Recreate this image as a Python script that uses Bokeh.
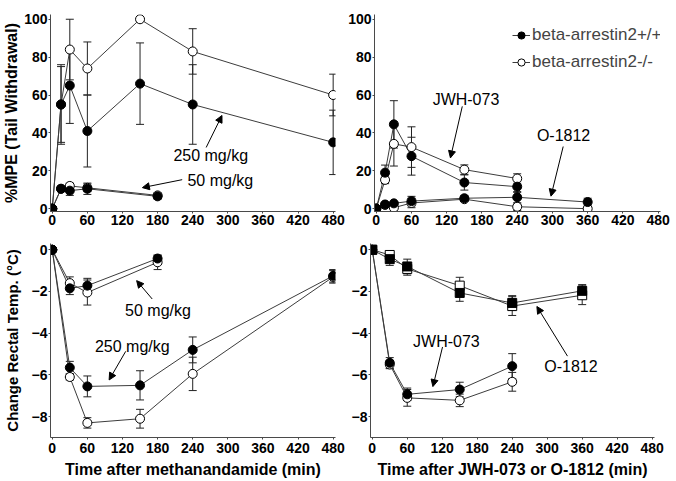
from bokeh.plotting import figure
from bokeh.layouts import column, row
from bokeh.models import (ColumnDataSource, Whisker, TeeHead, Arrow, NormalHead, Label,
                          Legend, LegendItem, Range1d, FixedTicker)
from bokeh.embed import file_html
from bokeh.resources import INLINE

# ---------------- data ----------------
# Top-left: methanandamide, %MPE
t_m250 = [0, 15, 30, 60, 150, 240, 480]
wt_mpe250 = [0, 55, 65, 41, 66, 55, 35]
wt_mpe250_err = [0, 20, 20, 19, 21.5, 21, 17]
ko_mpe250 = [0, 55, 84, 74, 100, 83, 60]
ko_mpe250_err = [0, 21, 16, 14, 0, 12, 11]

t_m50 = [0, 15, 30, 60, 180]
wt_mpe50 = [0, 10.5, 9.5, 10.5, 6.5]
wt_mpe50_err = [0, 1.5, 2.5, 3, 1.5]
ko_mpe50 = [0, 10.5, 12, 11, 7]
ko_mpe50_err = [0, 1.5, 1.5, 2, 1.5]

# Top-right: JWH-073 and O-1812, %MPE
t_j = [0, 15, 30, 60, 150, 240]
wt_mpe_jwh = [0, 19, 44.5, 27.7, 13.8, 11.6]
wt_mpe_jwh_err = [0, 4, 12.5, 10, 4, 3]
ko_mpe_jwh = [0, 15.2, 34.2, 32.5, 20.6, 15.9]
ko_mpe_jwh_err = [0, 2, 11.7, 10.7, 2.5, 2.5]

t_o = [0, 15, 30, 60, 150, 240, 360]
wt_mpe_o = [0, 2.2, 2.8, 4, 5.5, 6, 3.5]
wt_mpe_o_err = [0, 1, 1, 2.5, 1.5, 3, 2]
ko_mpe_o = [0, 2, 0.5, 3, 5, 1, 0]
ko_mpe_o_err = [0, 1, 1, 2.5, 1, 2, 1]

# Bottom-left: methanandamide, change in rectal temperature
t_t250 = [0, 30, 60, 150, 240, 480]
wt_temp250 = [0, -5.65, -6.55, -6.5, -4.8, -1.25]
wt_temp250_err = [0, 0.3, 0.5, 0.7, 0.62, 0.3]
ko_temp250 = [0, -6.1, -8.3, -8.1, -5.95, -1.3]
ko_temp250_err = [0, 0.15, 0.25, 0.45, 0.8, 0.3]

t_t50 = [0, 30, 60, 180]
wt_temp50 = [0, -1.85, -1.72, -0.42]
wt_temp50_err = [0, 0.3, 0.35, 0.15]
ko_temp50 = [0, -1.6, -2.05, -0.6]
ko_temp50_err = [0, 0.3, 0.6, 0.35]

# Bottom-right: JWH-073 (circles) and O-1812 (squares)
t_tj = [0, 30, 60, 150, 240]
wt_temp_jwh = [0, -5.42, -6.93, -6.7, -5.58]
wt_temp_jwh_err = [0, 0.25, 0.3, 0.35, 0.6]
ko_temp_jwh = [0, -5.5, -7.1, -7.22, -6.33]
ko_temp_jwh_err = [0, 0.2, 0.4, 0.3, 0.45]

t_to = [0, 30, 60, 150, 240, 360]
wt_temp_o = [0, -0.45, -0.8, -2.07, -2.55, -1.97]
wt_temp_o_err = [0, 0.3, 0.35, 0.4, 0.35, 0.3]
ko_temp_o = [0, -0.25, -0.92, -1.72, -2.7, -2.18]
ko_temp_o_err = [0, 0.2, 0.3, 0.4, 0.45, 0.45]

x_ticks = [0, 60, 120, 180, 240, 300, 360, 420, 480]
mpe_ticks = [0, 20, 40, 60, 80, 100]
temp_ticks = [0, -2, -4, -6, -8]

legend_labels = ["beta-arrestin2+/+", "beta-arrestin2-/-"]

# ---------------- style ----------------
FONT = "Liberation Sans"
LINE_C = "#3c3c3c"
AX_C = "#4a4a4a"


def make_fig(w, h, lb, rb, tb, bb, yr, yticks, xlabel=None, ylabel=None,
             ylabel_size="16px", ylabel_standoff=0, xlabel_standoff=1):
    p = figure(width=w, height=h, output_backend="svg", toolbar_location=None,
               x_range=Range1d(-3, 484), y_range=Range1d(*yr),
               min_border_left=lb, min_border_right=rb,
               min_border_top=tb, min_border_bottom=bb)
    p.outline_line_color = None
    p.grid.visible = False
    p.xaxis.ticker = FixedTicker(ticks=x_ticks)
    p.yaxis.ticker = FixedTicker(ticks=yticks)
    for ax in (p.xaxis, p.yaxis):
        ax.axis_line_color = AX_C
        ax.major_tick_line_color = AX_C
        ax.minor_tick_line_color = None
        ax.major_tick_out = 2
        ax.major_tick_in = 0
        ax.major_label_standoff = 1
        ax.major_label_text_font = FONT
        ax.major_label_text_font_style = "bold"
        ax.major_label_text_font_size = "14px"
        ax.major_label_text_color = "black"
        ax.axis_label_text_font = FONT
        ax.axis_label_text_font_style = "bold"
        ax.axis_label_text_color = "black"
    p.xaxis.major_label_standoff = xlabel_standoff
    if xlabel:
        p.xaxis.axis_label = xlabel
        p.xaxis.axis_label_text_font_size = "16px"
        p.xaxis.axis_label_standoff = 5
    if ylabel:
        p.yaxis.axis_label = ylabel
        p.yaxis.axis_label_text_font_size = ylabel_size
        p.yaxis.axis_label_standoff = ylabel_standoff
    return p


def series(p, t, vals, errs):
    up = [v + e for v, e in zip(vals, errs) if e > 0]
    lo = [v - e for v, e in zip(vals, errs) if e > 0]
    tx = [x for x, e in zip(t, errs) if e > 0]
    wsrc = ColumnDataSource(dict(x=tx, upper=up, lower=lo))
    p.add_layout(Whisker(source=wsrc, base="x", upper="upper", lower="lower",
                         line_color="#222222", line_width=1,
                         upper_head=TeeHead(size=8, line_color="#222222", line_width=1),
                         lower_head=TeeHead(size=8, line_color="#222222", line_width=1)))
    src = ColumnDataSource(dict(x=t, y=vals))
    ln = p.line("x", "y", source=src, line_color=LINE_C, line_width=1)
    return src, ln


def markers(p, src, filled, marker="circle", size=9):
    return p.scatter("x", "y", source=src, marker=marker, size=size,
                     fill_color="black" if filled else "white",
                     line_color="black", line_width=1)


def note(p, x, y, text, xs, ys, xe, ye):
    p.add_layout(Label(x=x, y=y, text=text, text_font=FONT, text_font_size="16px",
                       text_baseline="middle", text_align="left", text_color="black"))
    p.add_layout(Arrow(x_start=xs, y_start=ys, x_end=xe, y_end=ye, line_color="black",
                       line_width=1,
                       end=NormalHead(size=7, fill_color="black", line_color="black")))


# ---------------- top-left ----------------
p1 = make_fig(345, 232, 50, 10, 14, 21, (-1.5, 102.5), mpe_ticks,
              ylabel="%MPE (Tail Withdrawal)", ylabel_size="16px", ylabel_standoff=1,
              xlabel_standoff=1)
s_ko250, _ = series(p1, t_m250, ko_mpe250, ko_mpe250_err)
s_wt250, _ = series(p1, t_m250, wt_mpe250, wt_mpe250_err)
s_ko50, _ = series(p1, t_m50, ko_mpe50, ko_mpe50_err)
s_wt50, _ = series(p1, t_m50, wt_mpe50, wt_mpe50_err)
for s, f in ((s_ko250, False), (s_ko50, False), (s_wt250, True), (s_wt50, True)):
    markers(p1, s, f)
note(p1, 207, 28, "250 mg/kg", 263, 32.3, 290, 49.2)
note(p1, 231, 14.8, "50 mg/kg", 222, 15.3, 154, 11.1)

# ---------------- top-right ----------------
p2 = make_fig(331, 232, 25, 16, 14, 21, (-1.5, 102.5), mpe_ticks, xlabel_standoff=1)
s_koo, l_koo = series(p2, t_o, ko_mpe_o, ko_mpe_o_err)
s_wto, l_wto = series(p2, t_o, wt_mpe_o, wt_mpe_o_err)
s_koj, l_koj = series(p2, t_j, ko_mpe_jwh, ko_mpe_jwh_err)
s_wtj, l_wtj = series(p2, t_j, wt_mpe_jwh, wt_mpe_jwh_err)
m_koo = markers(p2, s_koo, False)
m_koj = markers(p2, s_koj, False)
m_wto = markers(p2, s_wto, True)
m_wtj = markers(p2, s_wtj, True)
note(p2, 96, 57.6, "JWH-073", 146.5, 54, 126.3, 26.8)
note(p2, 273.5, 38.4, "O-1812", 318.3, 32.8, 297.5, 6.6)
leg = Legend(items=[LegendItem(label=legend_labels[0], renderers=[l_wtj, m_wtj]),
                    LegendItem(label=legend_labels[1], renderers=[l_koj, m_koj])],
             location=(138, 137), margin=0, padding=0, spacing=3,
             glyph_width=18, glyph_height=24, label_height=24, label_standoff=2,
             label_text_font=FONT, label_text_font_size="17px",
             background_fill_alpha=0, border_line_alpha=0)
p2.add_layout(leg)

# ---------------- bottom-left ----------------
p3 = make_fig(345, 249, 48, 10, 11, 44, (-9, 0.3), temp_ticks,
              xlabel="Time after methanandamide (min)",
              ylabel="Change Rectal Temp. (\u00b0C)", ylabel_size="15px", ylabel_standoff=8,
              xlabel_standoff=3)
s3_ko250, _ = series(p3, t_t250, ko_temp250, ko_temp250_err)
s3_wt250, _ = series(p3, t_t250, wt_temp250, wt_temp250_err)
s3_ko50, _ = series(p3, t_t50, ko_temp50, ko_temp50_err)
s3_wt50, _ = series(p3, t_t50, wt_temp50, wt_temp50_err)
for s, f in ((s3_ko250, False), (s3_ko50, False), (s3_wt250, True), (s3_wt50, True)):
    markers(p3, s, f)
note(p3, 124.4, -2.9, "50 mg/kg", 170.8, -2.36, 144.2, -1.48)
note(p3, 73, -4.65, "250 mg/kg", 125.5, -4.87, 97.2, -6.24)

# ---------------- bottom-right ----------------
p4 = make_fig(331, 249, 25, 22, 11, 44, (-9, 0.3), temp_ticks,
              xlabel="Time after JWH-073 or O-1812 (min)", xlabel_standoff=3)
s4_koj, _ = series(p4, t_tj, ko_temp_jwh, ko_temp_jwh_err)
s4_wtj, _ = series(p4, t_tj, wt_temp_jwh, wt_temp_jwh_err)
s4_koo, _ = series(p4, t_to, ko_temp_o, ko_temp_o_err)
s4_wto, _ = series(p4, t_to, wt_temp_o, wt_temp_o_err)
markers(p4, s4_koj, False)
markers(p4, s4_wtj, True)
markers(p4, s4_koo, False, marker="square", size=9)
markers(p4, s4_wto, True, marker="square", size=9)
note(p4, 70, -4.39, "JWH-073", 120.5, -4.66, 104, -6.56)
note(p4, 295, -5.58, "O-1812", 334.8, -5.1, 282.3, -2.72)

layout = column(row(p1, p2), row(p3, p4))
open("out.html", "w").write(file_html(layout, INLINE))
